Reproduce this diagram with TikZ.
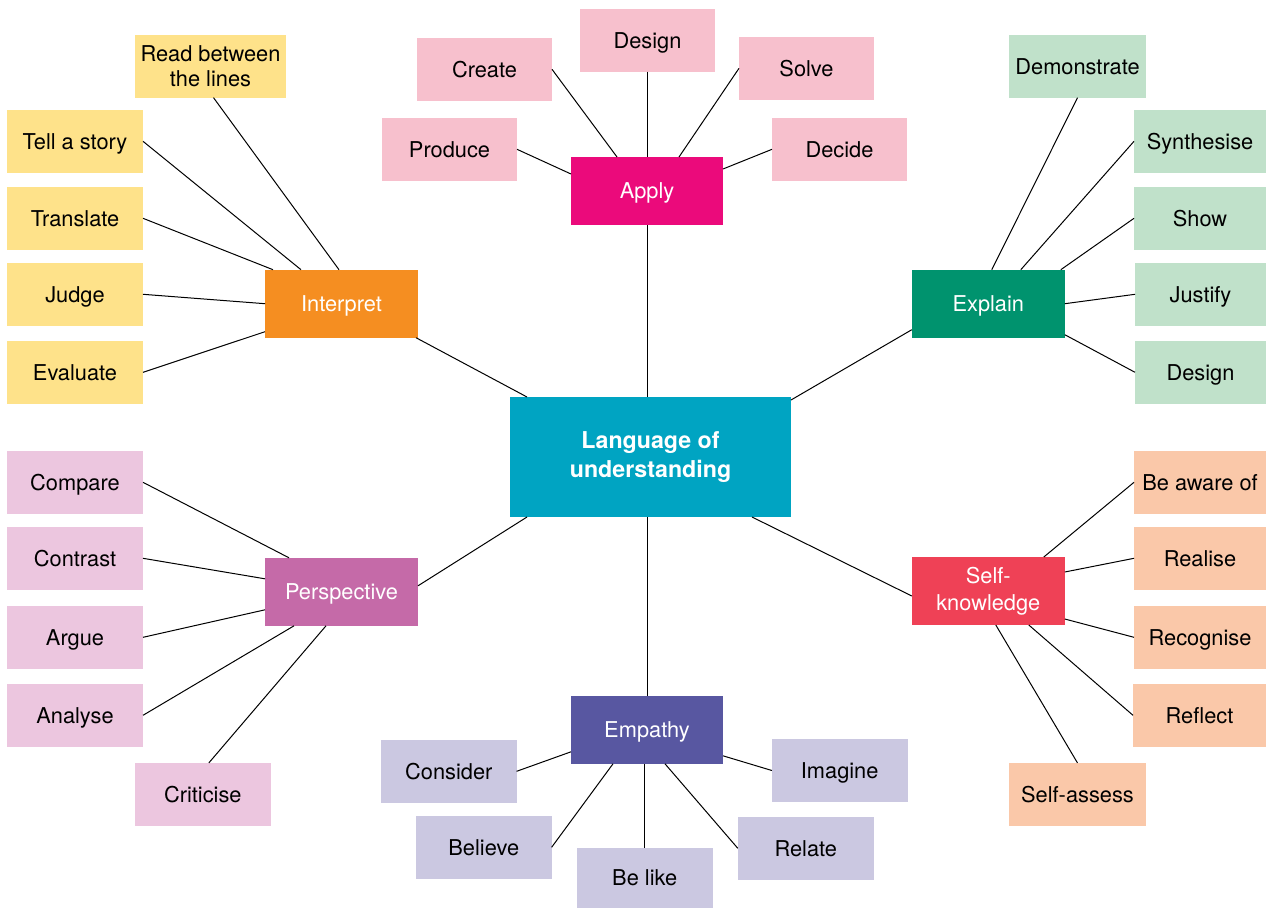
\documentclass[tikz,border=0pt]{standalone}
\usepackage{fontspec}
\setmainfont{TeX Gyre Heros}
\definecolor{cyanC}{HTML}{00A4C2}
\definecolor{orangeC}{HTML}{F58E21}
\definecolor{magentaC}{HTML}{EB0A7B}
\definecolor{greenC}{HTML}{00936E}
\definecolor{purpleC}{HTML}{C56AA8}
\definecolor{redC}{HTML}{EF4156}
\definecolor{indigoC}{HTML}{5857A1}
\definecolor{yellowL}{HTML}{FEE28A}
\definecolor{pinkL}{HTML}{F7C0CD}
\definecolor{greenL}{HTML}{C0E1CA}
\definecolor{purpleL}{HTML}{ECC6DF}
\definecolor{peachL}{HTML}{FAC8A9}
\definecolor{lavL}{HTML}{CBC8E1}
\tikzset{
  leafbase/.style={minimum width=136pt, minimum height=62.7pt, inner sep=0pt, outer sep=0pt,
    align=center, text=black, font=\fontsize{21.8}{25.5}\selectfont},
  leaf/.style={leafbase, text height=15.6pt, text depth=0pt},
  catbase/.style={minimum width=153pt, minimum height=68pt, inner sep=0pt, outer sep=0pt,
    align=center, text=white, font=\fontsize{21.8}{26.5}\selectfont},
  cat/.style={catbase, text height=15.6pt, text depth=0pt},
  link/.style={draw=black, line width=1pt},
}
\begin{document}
\begin{tikzpicture}[x=1pt, y=-1pt]
\useasboundingbox (0,0) rectangle (1266,908);
% centre
\node[minimum width=281pt, minimum height=120pt, inner sep=0pt, outer sep=0pt, fill=cyanC, text=white,
  align=center, font=\fontsize{23.2}{29.5}\selectfont\bfseries] (c) at (650.5,457) {Language of\\understanding};
% categories
\node[cat, fill=orangeC] (ip) at (341.5,303.7) {Interpret};
\node[cat, fill=magentaC, minimum width=152pt] (ap) at (647,191) {Apply};
\node[cat, fill=greenC] (ex) at (988.3,303.7) {Explain};
\node[cat, fill=purpleC] (pe) at (341.5,591.8) {Perspective};
\node[catbase, fill=redC] (sk) at (988.3,591) {Self-\\knowledge};
\node[cat, fill=indigoC, minimum width=152pt] (em) at (647,729.8) {Empathy};
% Interpret leaves
\node[leafbase, fill=yellowL, minimum width=151pt] (read) at (210.5,66.3) {Read between\\the lines};
\node[leaf, fill=yellowL] (tell) at (75,141.3) {Tell a story};
\node[leaf, fill=yellowL] (transl) at (75,218.3) {Translate};
\node[leaf, fill=yellowL] (judge) at (75,294.3) {Judge};
\node[leaf, fill=yellowL] (eval) at (75,372.3) {Evaluate};
% Apply leaves
\node[leaf, fill=pinkL, minimum width=135pt] (create) at (484.5,69.3) {Create};
\node[leaf, fill=pinkL, minimum width=135pt] (design) at (647.5,40.3) {Design};
\node[leaf, fill=pinkL, minimum width=135pt] (solve) at (806.5,68.3) {Solve};
\node[leaf, fill=pinkL, minimum width=135pt] (produce) at (449.5,149.3) {Produce};
\node[leaf, fill=pinkL, minimum width=135pt] (decide) at (839.5,149.3) {Decide};
% Explain leaves
\node[leaf, fill=greenL, minimum width=137pt] (demo) at (1077.5,66.3) {Demonstrate};
\node[leaf, fill=greenL, minimum width=132pt] (synth) at (1200,141.3) {Synthesise};
\node[leaf, fill=greenL, minimum width=132pt] (show) at (1200,218.3) {Show};
\node[leaf, fill=greenL, minimum width=131pt] (justify) at (1200.5,294.3) {Justify};
\node[leaf, fill=greenL, minimum width=131pt] (design2) at (1200.5,372.3) {Design};
% Perspective leaves
\node[leaf, fill=purpleL] (compare) at (75,482.3) {Compare};
\node[leaf, fill=purpleL] (contrast) at (75,558.3) {Contrast};
\node[leaf, fill=purpleL] (argue) at (75,637.3) {Argue};
\node[leaf, fill=purpleL] (analyse) at (75,715.3) {Analyse};
\node[leaf, fill=purpleL] (crit) at (202.8,794.3) {Criticise};
% Self-knowledge leaves
\node[leaf, fill=peachL, minimum width=132pt] (aware) at (1200,482.3) {Be aware of};
\node[leaf, fill=peachL, minimum width=132pt] (realise) at (1200,558.3) {Realise};
\node[leaf, fill=peachL, minimum width=132pt] (recog) at (1200,637.3) {Recognise};
\node[leaf, fill=peachL, minimum width=133pt] (reflect) at (1199.5,715.3) {Reflect};
\node[leaf, fill=peachL, minimum width=137pt] (sa) at (1077.5,794.3) {Self-assess};
% Empathy leaves
\node[leaf, fill=lavL, minimum width=135.6pt] (consider) at (448.8,771.3) {Consider};
\node[leaf, fill=lavL, minimum width=135.6pt] (believe) at (483.8,847.3) {Believe};
\node[leaf, fill=lavL, minimum width=135.6pt, minimum height=60pt] (belike) at (644.7,878) {Be like};
\node[leaf, fill=lavL, minimum width=136pt] (relate) at (805.8,848.3) {Relate};
\node[leaf, fill=lavL, minimum width=135.6pt] (imagine) at (839.7,770.5) {Imagine};
% connectors: Interpret
\draw[link] ([xshift=3pt]read.south) -- ([xshift=74pt]ip.north west);
\draw[link] (tell.east) -- ([xshift=36pt]ip.north west);
\draw[link] (transl.east) -- ([xshift=8pt]ip.north west);
\draw[link] (judge.east) -- (ip.west);
\draw[link] (eval.east) -- ([yshift=6pt]ip.south west);
\draw[link] ([xshift=-2pt]ip.south east) -- ([xshift=17pt]c.north west);
% Apply
\draw[link] (create.east) -- ([xshift=46pt]ap.north west);
\draw[link] (design.south) -- (design.south |- ap.north);
\draw[link] (solve.west) -- ([xshift=108pt]ap.north west);
\draw[link] (produce.east) -- ([yshift=-17pt]ap.north west);
\draw[link] (decide.west) -- ([yshift=-12pt]ap.north east);
\draw[link] (ap.south) -- (ap.south |- c.north);
% Explain
\draw[link] (demo.south) -- ([xshift=80pt]ex.north west);
\draw[link] (synth.west) -- ([xshift=109pt]ex.north west);
\draw[link] (show.west) -- ([xshift=-4pt]ex.north east);
\draw[link] (justify.west) -- (ex.east);
\draw[link] (design2.west) -- ([yshift=3pt]ex.south east);
\draw[link] ([yshift=8pt]ex.south west) -- ([yshift=-3pt]c.north east);
% Perspective
\draw[link] (compare.east) -- ([xshift=24pt]pe.north west);
\draw[link] (contrast.east) -- ([yshift=-21pt]pe.north west);
\draw[link] (argue.east) -- ([yshift=16pt]pe.south west);
\draw[link] (analyse.east) -- ([xshift=29pt]pe.south west);
\draw[link] ([xshift=6pt]crit.north) -- ([xshift=61pt]pe.south west);
\draw[link] ([yshift=6pt]pe.east) -- ([xshift=17pt]c.south west);
% Self-knowledge
\draw[link] (aware.west) -- ([xshift=132pt]sk.north west);
\draw[link] (realise.west) -- ([yshift=-15pt]sk.north east);
\draw[link] (recog.west) -- ([yshift=6pt]sk.south east);
\draw[link] (reflect.west) -- ([xshift=117pt]sk.south west);
\draw[link] (sa.north) -- ([xshift=84pt]sk.south west);
\draw[link] ([yshift=-5pt]sk.west) -- ([xshift=-39pt]c.south east);
% Empathy
\draw[link] (consider.east) -- ([yshift=-56pt]em.north west);
\draw[link] (believe.east) -- ([xshift=42pt]em.south west);
\draw[link] (belike.north) -- (belike.north |- em.south);
\draw[link] (relate.west) -- ([xshift=94pt]em.south west);
\draw[link] (imagine.west) -- ([yshift=-60pt]em.north east);
\draw[link] (em.north) -- (em.north |- c.south);
\end{tikzpicture}
\end{document}
